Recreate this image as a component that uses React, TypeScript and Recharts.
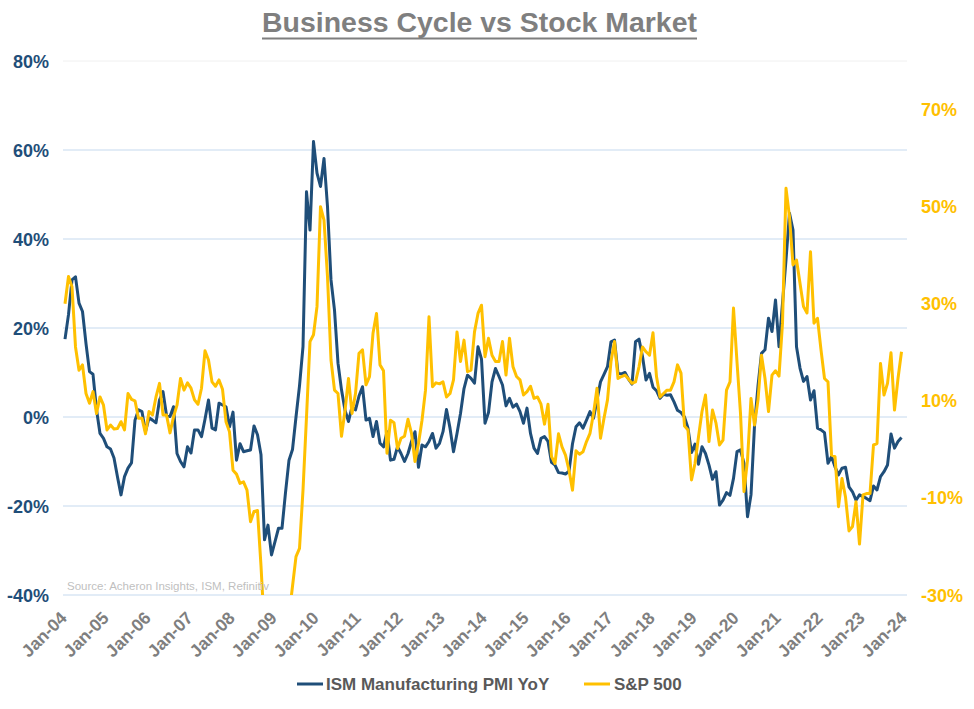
import React from "react";
import { LineChart, Line, XAxis, YAxis, CartesianGrid } from "recharts";

// Monthly data, Jan-04 .. Dec-23
const START_YEAR = 2004;
const ismPmiYoY: number[] = [
  17.5, 23, 30.8, 31.5, 25.6, 23.7, 16.5, 10.2, 9.6, 1.7, -3.7, -4.8,
  -6.7, -7.2, -9.2, -13.5, -17.5, -13.4, -11.5, -10.3, -0.7, 1.6, 1.2, -3.3,
  -0.2, -0.7, -1.3, 3.8, 5.7, 0.4, 0.1, 2.3, -8.2, -10, -11.2, -6.7,
  -8.1, -2.9, -2.9, -4.4, -0.5, 3.8, -2.5, -2.9, 3.1, 2.7, 2.3, -2.2,
  1.1, -9.7, -6, -7.8, -7.6, -7.4, -2, -4, -8.5, -27.6, -24.3, -31,
  -28, -25, -25, -17, -9.7, -7.3, 0, 7, 15.8, 50.6, 42, 61.9,
  54.8, 51.8, 58.1, 47.3, 30.8, 24, 12.1, 6.1, 1.5, -1, 2.3, 1.6,
  4.7, 6.8, -0.7, -0.3, -4.4, -1, -5.9, -6.7, -3.3, -9.7, -9.5, -6.7,
  -8.2, -10, -8.2, -5.5, -3.3, -11.3, -6.3, -6.7, -5.5, -3.7, -7, -5.9,
  -3.3, 1.7, -2.5, -7.8, -3.7, 0.8, 6.4, 9.4, 8.7, 7.6, 15.8, 13,
  -1.4, 1, 7.9, 10.9, 9.1, 7.2, 2.5, 4.2, 2.2, 2.9, 1.2, -1.4,
  2, -3.7, -7, -8.2, -4.8, -4.4, -5.5, -10.2, -10.8, -12.5, -12.6, -12.8,
  -12.2, -6, -2.2, -1.3, -2.5, -0.7, 1.2, -0.3, 3.8, 7.9, 9.6, 11.3,
  16.9, 17.3, 9.8, 9.7, 10, 8.5, 7.4, 16.9, 17.5, 13.6, 8.3, 9.8,
  6.7, 5.9, 4.2, 5.1, 4.9, 5, 3.4, 1.5, 1, 0, -2.5, -8,
  -6.1, -10.6, -6.7, -8.2, -10.8, -14, -12.3, -19.8, -18.7, -17, -17.6, -13.8,
  -7.8, -7.4, -10.4, -22.4, -17.5, -2, 7, 14.3, 15.1, 22.2, 19.2, 26.3,
  15.8, 25.6, 35.3, 45.8, 42, 15.8, 11, 8, 9.1, 3.8, 5.9, -2.5,
  -2.9, -3.5, -10.4, -8.9, -11.2, -13, -11.5, -11.3, -15.7, -16.8, -18.7, -17.5,
  -17.9, -18.3, -18.8, -15.5, -16.4, -13.4, -12.3, -10.8, -3.8, -7, -5.5, -4.6,
];
const sp500YoY: number[] = [
  30, 35.6, 33.5, 21.1, 16.3, 17.4, 11.5, 9.5, 11.9, 7.4, 10.8, 9.1,
  4, 5, 4.2, 4.3, 5.7, 4, 11.5, 10.3, 10, 6.4, 6.4, 3.2,
  7.8, 7.1, 10.8, 13.6, 7.1, 7.1, 3.4, 6.7, 9.1, 14.6, 12.2, 13.7,
  12.6, 10.2, 9.3, 12.6, 20.3, 18.4, 13.9, 13, 14.3, 12.4, 5.7, 3.6,
  -4.3, -5.1, -7, -6.7, -8.4, -14.9, -12.8, -12.6, -24, -37.5, -39.5, -38.5,
  -40, -44.8, -39.7, -37, -34.4, -28.2, -22.1, -20.4, -8.4, 6.7, 22.2, 23.6,
  29.4, 50, 47.2, 35.6, 18.4, 12.2, 11.5, 2.7, 8, 14.6, 7.4, 11.5,
  19.8, 20.5, 13.3, 15, 23.9, 28, 17.4, 16.2, -0.8, 6, 5.5, 0.2,
  2.3, 2.7, 6.2, 3.3, -2.5, 1.2, 6, 12.2, 27.3, 12.9, 13.7, 13.5,
  13.9, 10.8, 11.5, 14.3, 24.2, 18.1, 22.5, 16, 16.3, 24.2, 28, 29.7,
  19.1, 22.9, 19.4, 18.1, 18.1, 22.2, 15.3, 22.9, 17, 15, 14.3, 11.2,
  11.9, 13, 10.5, 10.8, 9.3, 5.2, 9.3, -1.5, -2.9, 3.2, 0.5, -1.2,
  -4.3, -8.4, -0.3, -1, -0.5, 1.6, 3.3, 7.4, 12.6, 2.3, 6.4, 10.2,
  18.1, 22.2, 14.6, 15, 15.3, 14.5, 13.6, 13.9, 17, 21.1, 20.1, 19.4,
  24, 15, 10.8, 11.5, 12.2, 12.2, 13.9, 17.4, 15.7, 4.8, 4, -6.3,
  -2.9, 2.6, 7.8, 11.2, 1.6, 8.1, 5.4, 0.9, 1.9, 12.2, 13.9, 29.1,
  18, 7.4, -8.7, -2.2, 10.5, 5, 10.2, 19.4, 14.6, 7.8, 15.3, 16.2,
  15.1, 26, 53.8, 47.9, 38, 39, 34.2, 29.4, 28.1, 40.7, 26, 27,
  20.5, 14.6, 13.9, -1.2, -1.5, -11.8, -6, -9.8, -16.8, -15.9, -10.8, -19.5,
  -9.4, -9.1, -9.1, 0.9, 1.2, 17.7, 11.2, 13.6, 19.9, 8.1, 14.6, 20.1,
];
const xTickLabels: string[] = [
  "Jan-04", "Jan-05", "Jan-06", "Jan-07", "Jan-08", "Jan-09", "Jan-10",
  "Jan-11", "Jan-12", "Jan-13", "Jan-14", "Jan-15", "Jan-16", "Jan-17",
  "Jan-18", "Jan-19", "Jan-20", "Jan-21", "Jan-22", "Jan-23", "Jan-24",
];
const leftTicks: number[] = [-40, -20, 0, 20, 40, 60, 80];
const rightTicks: number[] = [-30, -10, 10, 30, 50, 70];

const MONTHS = ["Jan","Feb","Mar","Apr","May","Jun","Jul","Aug","Sep","Oct","Nov","Dec"];
const rows = ismPmiYoY.map((v, i) => ({
  m: i,
  label: `${MONTHS[i % 12]}-${String((START_YEAR + Math.floor(i / 12)) % 100).padStart(2, "0")}`,
  ism: v,
  spx: sp500YoY[i],
}));
const xTicks = xTickLabels.map((_, i) => i * 12);

const FONT = "'Liberation Sans', Arial, sans-serif";
const NAVY = "#1f4e79";
const GOLD = "#ffc000";
const GREY = "#7f7f7f";

const LeftTick = (p: any) => (
  <text x={49} y={p.y + 6.5} textAnchor="end" fontFamily={FONT} fontWeight="bold" fontSize={18} fill={NAVY}>
    {`${p.payload.value}%`}
  </text>
);
const RightTick = (p: any) => (
  <text x={921} y={p.y + 6.5} textAnchor="start" fontFamily={FONT} fontWeight="bold" fontSize={18} fill={GOLD}>
    {`${p.payload.value}%`}
  </text>
);
const BottomTick = (p: any) => {
  const idx = Math.round(p.payload.value / 12);
  return (
    <text
      transform={`translate(${p.x + 3},${619}) rotate(-45)`}
      textAnchor="end"
      fontFamily={FONT}
      fontWeight="bold"
      fontSize={17.5}
      fill={GREY}
    >
      {xTickLabels[idx]}
    </text>
  );
};

const gridLine = (p: any) => (
  <line
    key={`h-${p.index}-${p.y1}`}
    x1={p.x1}
    x2={p.x2}
    y1={p.y1}
    y2={p.y2}
    stroke={p.y1 < 70 ? "#f0f0f0" : "#c5d9ee"}
    strokeWidth={1}
  />
);

export default function App() {
  return (
    <div style={{ position: "absolute", left: 0, top: 0, width: 974, height: 709, background: "#fff" }}>
      <LineChart width={974} height={709} data={rows} margin={{ top: 61, right: 0, bottom: 84, left: 0 }}>
        <CartesianGrid yAxisId="left" xAxisId="x" vertical={false} horizontal={gridLine} />
        <XAxis
          xAxisId="x"
          type="number"
          dataKey="m"
          domain={[-0.571, 240.571]}
          allowDataOverflow
          ticks={xTicks}
          interval={0}
          tick={<BottomTick />}
          tickLine={false}
          axisLine={false}
          height={30}
        />
        <YAxis
          yAxisId="left"
          orientation="left"
          width={63}
          domain={[-40, 80]}
          ticks={leftTicks}
          interval={0}
          tick={<LeftTick />}
          tickLine={false}
          axisLine={false}
        />
        <YAxis
          yAxisId="right"
          orientation="right"
          width={67}
          domain={[-30, 80]}
          allowDataOverflow
          ticks={rightTicks}
          interval={0}
          tick={<RightTick />}
          tickLine={false}
          axisLine={false}
        />
        <Line
          xAxisId="x"
          yAxisId="left"
          type="linear"
          dataKey="ism"
          name="ISM Manufacturing PMI YoY"
          stroke={NAVY}
          strokeWidth={3}
          dot={false}
          activeDot={false}
          strokeLinejoin="round"
          isAnimationActive={false}
        />
        <Line
          xAxisId="x"
          yAxisId="right"
          type="linear"
          dataKey="spx"
          name="S&P 500"
          stroke={GOLD}
          strokeWidth={3}
          dot={false}
          activeDot={false}
          strokeLinejoin="round"
          isAnimationActive={false}
        />
      </LineChart>
      <svg
        width={974}
        height={709}
        style={{ position: "absolute", left: 0, top: 0, pointerEvents: "none" }}
      >
        <text
          x={262}
          y={32}
          textLength={435}
          lengthAdjust="spacingAndGlyphs"
          fontFamily={FONT}
          fontWeight="bold"
          fontSize={28.5}
          fill={GREY}
        >
          Business Cycle vs Stock Market
        </text>
        <line x1={262} x2={697} y1={38.5} y2={38.5} stroke={GREY} strokeWidth={2} />
        <text x={67} y={590} fontFamily={FONT} fontSize={11.5} fill="#bfbfbf">
          Source: Acheron Insights, ISM, Refinitiv
        </text>
        <line x1={297} x2={323} y1={684} y2={684} stroke={NAVY} strokeWidth={3} />
        <text x={326} y={690} fontFamily={FONT} fontWeight="bold" fontSize={17} fill="#595959">
          ISM Manufacturing PMI YoY
        </text>
        <line x1={584} x2={610} y1={684} y2={684} stroke={GOLD} strokeWidth={3} />
        <text x={614} y={690} fontFamily={FONT} fontWeight="bold" fontSize={17} fill="#595959">
          S&amp;P 500
        </text>
      </svg>
    </div>
  );
}
